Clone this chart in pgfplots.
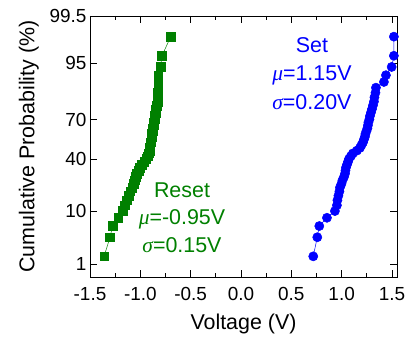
\documentclass[border=0pt]{standalone}
\usepackage{fontspec}
\setmainfont{Liberation Sans}
\newfontfamily\grk{Liberation Serif}
\usepackage{pgfplots}
\usepackage{pgfplotstable}
\pgfplotsset{compat=1.18}
\definecolor{rgreen}{RGB}{0,128,0}
\definecolor{sblue}{RGB}{0,0,255}

% x = voltage, z = normal quantile of the cumulative probability (probability scale)
\pgfplotstableread{
x z
-1.360 -2.168
-1.301 -1.791
-1.276 -1.570
-1.221 -1.407
-1.172 -1.274
-1.152 -1.161
-1.135 -1.061
-1.117 -0.970
-1.102 -0.887
-1.082 -0.810
-1.068 -0.737
-1.053 -0.668
-1.045 -0.601
-1.033 -0.538
-1.018 -0.477
-1.003 -0.417
-0.983 -0.359
-0.963 -0.302
-0.943 -0.246
-0.929 -0.190
-0.919 -0.136
-0.909 -0.081
-0.904 -0.027
-0.901 0.027
-0.897 0.081
-0.893 0.136
-0.887 0.190
-0.884 0.246
-0.879 0.302
-0.874 0.359
-0.869 0.417
-0.864 0.477
-0.859 0.538
-0.854 0.601
-0.849 0.668
-0.844 0.737
-0.834 0.810
-0.829 0.887
-0.824 0.970
-0.824 1.061
-0.822 1.161
-0.822 1.274
-0.820 1.407
-0.799 1.570
-0.785 1.791
-0.698 2.168
}\resetdata

\pgfplotstableread{
x z
0.718 -2.168
0.758 -1.791
0.778 -1.570
0.854 -1.407
0.933 -1.274
0.953 -1.161
0.958 -1.061
0.968 -0.970
0.978 -0.887
0.983 -0.810
0.998 -0.737
1.008 -0.668
1.023 -0.601
1.033 -0.538
1.038 -0.477
1.043 -0.417
1.053 -0.359
1.063 -0.302
1.073 -0.246
1.092 -0.190
1.112 -0.136
1.152 -0.081
1.182 -0.027
1.197 0.027
1.212 0.081
1.221 0.136
1.231 0.190
1.236 0.246
1.246 0.302
1.256 0.359
1.261 0.417
1.266 0.477
1.276 0.538
1.281 0.601
1.291 0.668
1.301 0.737
1.311 0.810
1.321 0.887
1.326 0.970
1.336 1.061
1.341 1.161
1.420 1.274
1.440 1.407
1.497 1.570
1.519 1.791
1.519 2.168
}\setdata

\begin{document}
\begin{tikzpicture}
\begin{axis}[
  scale only axis, width=307bp, height=261bp,
  xmin=-1.5, xmax=1.55, ymin=-2.5758, ymax=2.5758,
  xtick={-1.5,-1,-0.5,0,0.5,1,1.5},
  xticklabels={-1.5,-1.0,-0.5,0.0,0.5,1.0,1.5},
  minor x tick num=1,
  ytick={-2.3263,-1.2816,-0.2533,0.5244,1.6449,2.5758},
  yticklabels={1,10,40,70,95,99.5},
  tick align=inside,
  major tick length=7bp, minor tick length=4bp,
  ticklabel style={font=\fontsize{19}{22}\selectfont},
  xticklabel style={yshift=-7bp},
  label style={font=\fontsize{21.5}{25}\selectfont},
  xlabel={Voltage (V)},
  xlabel style={yshift=-6bp},
  ylabel={Cumulative Probability (\%)},
  ylabel style={yshift=4bp},
  axis line style={line width=0.9pt},
  every tick/.style={line width=0.9pt, black},
  clip=false,
]
\addplot[rgreen, line width=0.5pt, mark=square*, mark size=4.3bp,
  mark options={solid, fill=rgreen, draw=rgreen}] table[x=x,y=z] {\resetdata};
\addplot[sblue, line width=0.5pt, mark=*, mark size=4.6bp,
  mark options={solid, fill=sblue, draw=sblue}] table[x=x,y=z] {\setdata};
\node[sblue, align=center, font=\fontsize{21.5}{29}\selectfont] at (axis cs:0.705,1.44)
  {Set\\{\grk\itshape μ}=1.15V\\{\grk\itshape σ}=0.20V};
\node[rgreen, align=center, font=\fontsize{21.5}{27.5}\selectfont] at (axis cs:-0.586,-1.40)
  {Reset\\{\grk\itshape μ}=-0.95V\\{\grk\itshape σ}=0.15V};
\end{axis}
\pgfresetboundingbox
\path (-90bp,-61bp) rectangle (317bp,277bp);
\end{tikzpicture}
\end{document}
